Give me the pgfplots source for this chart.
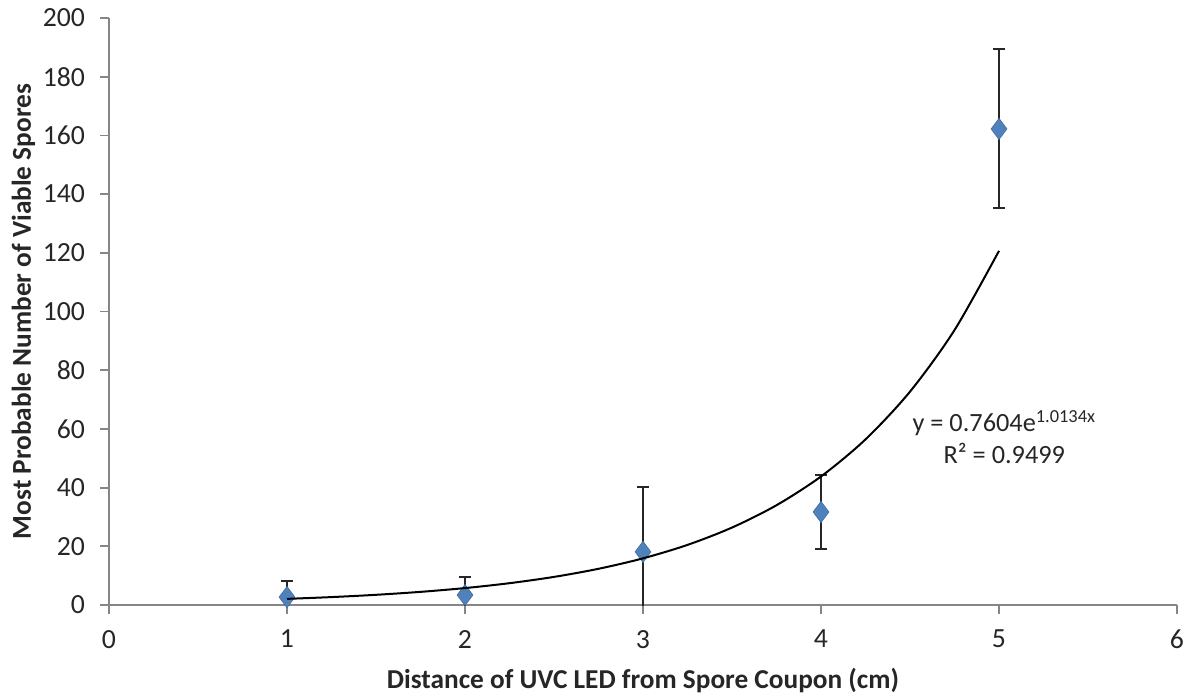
\documentclass[border=0pt]{standalone}
\usepackage{pgfplots}
\pgfplotsset{compat=1.18}
\usepackage{fontspec}
\setmainfont{Carlito}
\definecolor{mkblue}{HTML}{4F81BD}
\definecolor{axgray}{HTML}{868686}
\definecolor{txt}{HTML}{262626}
\begin{document}
\begin{tikzpicture}
\begin{axis}[
  name=ax,
  scale only axis,
  width=534bp, height=293.5bp,
  xmin=0, xmax=6, ymin=0, ymax=200,
  xtick={0,1,2,3,4,5,6},
  ytick={0,20,40,60,80,100,120,140,160,180,200},
  axis lines*=left,
  axis line style={axgray, line width=0.9bp},
  tick style={axgray, line width=0.9bp},
  tick align=outside,
  major tick length=4.5bp,
  /pgf/number format/assume math mode=true,
  ticklabel style={font=\fontsize{13.9}{16}\selectfont, text=txt},
  yticklabel style={xshift=-4bp},
  xticklabel style={yshift=-4.5bp},
  xlabel={\textbf{Distance of UVC LED from Spore Coupon (cm)}},
  ylabel={\textbf{Most Probable Number of Viable Spores}},
  every axis x label/.style={at={(0.5,-0.1414)}, anchor=base, font=\fontsize{13.7}{16}\selectfont, text=txt},
  every axis y label/.style={at={(-0.0800,0.5)}, anchor=center, rotate=90, font=\fontsize{13.7}{16}\selectfont, text=txt},
  clip mode=individual,
]
\addplot[only marks, mark=diamond*, mark size=5.3bp,
  mark options={fill=mkblue, draw=mkblue!85!black, line width=0.3bp},
  error bars/.cd, y dir=both, y explicit,
  error bar style={black!85, line width=1bp},
  error mark options={rotate=90, mark size=3bp, black!85, line width=1bp}]
  coordinates {
  (1,2.7) +- (0,5.4)
  (2,3.4) +- (0,6.1)
  (3,18.1) +- (0,22.1)
  (4,31.7) +- (0,12.6)
  (5,162.2) +- (0,27.1)
  };
\addplot[black, line width=1bp, smooth] coordinates {
  (1,2.095) (1.25,2.699) (1.5,3.477) (1.75,4.480) (2,5.771) (2.25,7.435)
  (2.5,9.579) (2.75,12.341) (3,15.899) (3.25,20.484) (3.5,26.390)
  (3.75,33.999) (4,43.802) (4.25,56.432) (4.5,72.704) (4.75,93.667) (5,120.67)
  };
\node[align=center, text=txt, font=\fontsize{13.2}{16}\selectfont] at (axis cs:5.03,57.2)
  {y = 0.7604e\textsuperscript{1.0134x}\\R² = 0.9499};
\end{axis}
\pgfresetboundingbox
\useasboundingbox ([xshift=-54.5bp,yshift=-45bp]ax.south west) rectangle ([xshift=8bp,yshift=9bp]ax.north east);
\end{tikzpicture}
\end{document}
